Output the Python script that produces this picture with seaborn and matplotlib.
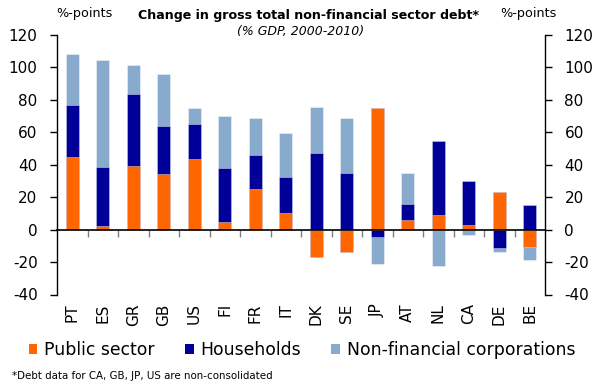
import numpy as np
import matplotlib
matplotlib.use("Agg")
import matplotlib.pyplot as plt
from matplotlib.patches import Patch
import seaborn as sns

countries = ["PT", "ES", "GR", "GB", "US", "FI", "FR", "IT", "DK", "SE", "JP", "AT", "NL", "CA", "DE", "BE"]
public = [45, 2, 39.3, 34.2, 43.6, 4.8, 24.9, 10.3, -16.8, -14.1, 74.9, 5.8, 9.3, 3.1, 23.1, -10.9]
households = [32, 36.5, 44.5, 30, 21.3, 33, 21.4, 22.2, 47.3, 35.2, -4.5, 10.3, 45.3, 26.8, -11.3, 14.9]
nfc = [31, 66, 18, 31.7, 9.8, 32.5, 22.7, 26.8, 28.2, 33.6, -17, 19.1, -22.6, -3.5, -2.8, -7.8]

series_names = ["Public sector", "Households", "Non-financial corporations"]
colors = ["#FF6600", "#000099", "#88AACC"]
yticks = [-40, -20, 0, 20, 40, 60, 80, 100, 120]

plt.rcParams["font.family"] = ["DejaVu Sans"]
plt.rcParams["axes.unicode_minus"] = False

fig = plt.figure(figsize=(5.96, 3.85), dpi=100)
ax = fig.add_axes([57/596, 1-294.5/385, (545-57)/596, (294.5-35)/385])

layers = np.array([public, households, nfc], dtype=float)
pos = np.cumsum(np.clip(layers, 0, None), axis=0)
neg = np.cumsum(np.clip(layers, None, 0), axis=0)

for i in [2, 1, 0]:
    for stack in (pos, neg):
        sns.barplot(x=countries, y=stack[i], color=colors[i], width=0.42,
                    saturation=1, errorbar=None, ax=ax,
                    edgecolor=(1, 1, 1, 0.45), linewidth=0.6)

ax.set_ylim(-40, 120)
ax.set_xlim(-0.5, len(countries) - 0.5)
ax.set_yticks(yticks)
ax.tick_params(axis="y", labelsize=11, length=5, width=1, pad=9, direction="out")
ax.spines["top"].set_visible(False)
ax.spines["right"].set_visible(False)
ax.spines["bottom"].set_position(("data", 0))
ax.spines["bottom"].set_linewidth(1.2)
ax.spines["left"].set_linewidth(1.0)
ax.set_xticks(np.arange(len(countries)))
ax.set_xticklabels(countries, rotation=90)
ax.set_xticks(np.arange(len(countries) - 1) + 0.5, minor=True)
ax.tick_params(axis="x", which="major", length=0, pad=53, labelsize=11)
ax.tick_params(axis="x", which="minor", length=5, width=1, color="#808080")
ax.set_xlabel("")
ax.set_ylabel("")

ax2 = ax.twinx()
ax2.set_ylim(-40, 120)
ax2.set_yticks(yticks)
ax2.tick_params(axis="y", labelsize=11, length=5, width=1, pad=9, direction="out")
for s in ["top", "bottom", "left"]:
    ax2.spines[s].set_visible(False)
ax2.spines["right"].set_linewidth(1.0)

fig.text(308/596, 1-16/385, "Change in gross total non-financial sector debt*",
         ha="center", va="center", fontsize=9.1, fontweight="bold")
fig.text(301/596, 1-31/385, "(% GDP, 2000-2010)", ha="center", va="center",
         fontsize=9, style="italic")
fig.text(56/596, 1-14/385, "%-points", ha="left", va="center", fontsize=9.2)
fig.text(500/596, 1-14/385, "%-points", ha="left", va="center", fontsize=9.2)

handles = [Patch(facecolor=c, edgecolor="none") for c in colors]
fig.legend(handles, series_names, loc="center", bbox_to_anchor=(302/596, 1-350/385),
           ncol=3, frameon=False, fontsize=12.4, handlelength=0.5, handleheight=0.5,
           handletextpad=0.4, columnspacing=1.75, borderpad=0)

fig.text(12/596, 1-376/385, "*Debt data for CA, GB, JP, US are non-consolidated",
         ha="left", va="center", fontsize=7.4)

fig.savefig("out.png", dpi=100)
